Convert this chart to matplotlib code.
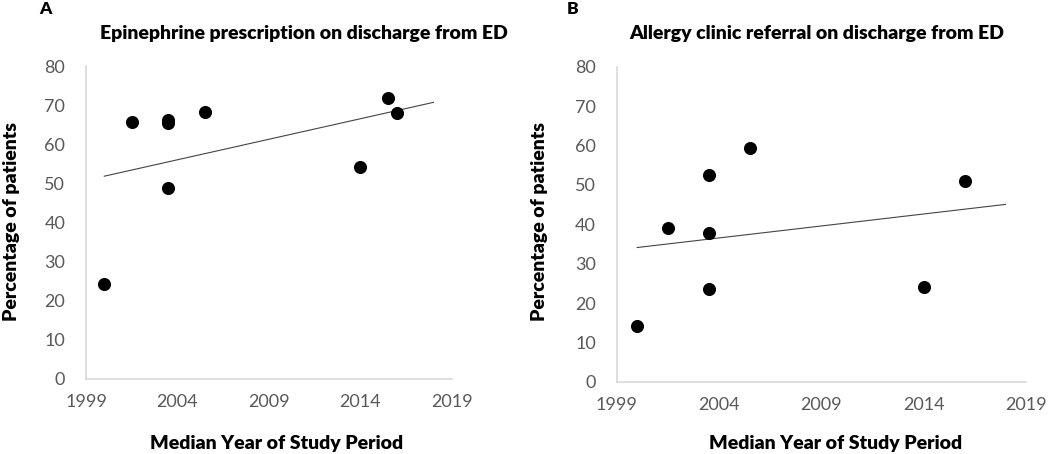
import matplotlib.pyplot as plt
import numpy as np

plt.rcParams['font.family'] = ['Lato', 'DejaVu Sans']

# panel A: epinephrine prescription
years_a = [2000, 2001.5, 2003.5, 2003.5, 2003.5, 2005.5, 2014, 2015.5, 2016]
pct_a = [24.4, 65.7, 66.2, 65.4, 48.7, 68.2, 54.3, 71.8, 67.9]

# panel B: allergy clinic referral
years_b = [2000, 2001.5, 2003.5, 2003.5, 2003.5, 2005.5, 2014, 2016]
pct_b = [14.3, 39.0, 37.9, 23.7, 52.5, 59.3, 24.1, 51.0]

x_ticks = [1999, 2004, 2009, 2014, 2019]
y_ticks = [0, 10, 20, 30, 40, 50, 60, 70, 80]
trend_span = [2000, 2018]

fig = plt.figure(figsize=(10.5, 4.54), dpi=100)
ax_a = fig.add_axes([0.0819, 0.1652, 0.3483, 0.6894])
ax_b = fig.add_axes([0.5873, 0.1586, 0.3898, 0.6945])


def draw(ax, xs, ys):
    ax.plot(xs, ys, 'o', color='black', markersize=8.4, zorder=3)
    k, b = np.polyfit(xs, ys, 1)
    tx = np.array(trend_span)
    ax.plot(tx, k * tx + b, color='#444444', linewidth=0.8, zorder=2)
    ax.set_xlim(1999, 2019)
    ax.set_ylim(0, 80)
    ax.set_xticks(x_ticks)
    ax.set_yticks(y_ticks)
    for s in ['top', 'right']:
        ax.spines[s].set_visible(False)
    for s in ['left', 'bottom']:
        ax.spines[s].set_color('#d9d9d9')
        ax.spines[s].set_linewidth(1.2)
    ax.tick_params(length=0, labelsize=13, colors='#595959')
    ax.tick_params(axis='y', pad=15)
    ax.tick_params(axis='x', pad=11)


draw(ax_a, years_a, pct_a)
draw(ax_b, years_b, pct_b)

bold = dict(fontweight='heavy', ha='center', va='center')

fig.text(45 / 1050, 1 - 9 / 454, 'A', fontsize=12.5, **bold)
fig.text(573 / 1050, 1 - 9 / 454, 'B', fontsize=12.5, **bold)

fig.text(304 / 1050, 1 - 33 / 454, 'Epinephrine prescription on discharge from ED',
         fontsize=14, **bold)
fig.text(817 / 1050, 1 - 33 / 454, 'Allergy clinic referral on discharge from ED',
         fontsize=14, **bold)

fig.text(12 / 1050, 1 - 222 / 454, 'Percentage of patients', rotation=90,
         fontsize=14, **bold)
fig.text(540 / 1050, 1 - 222 / 454, 'Percentage of patients', rotation=90,
         fontsize=14, **bold)

fig.text(277 / 1050, 1 - 443.7 / 454, 'Median Year of Study Period',
         fontsize=14, **bold)
fig.text(836 / 1050, 1 - 443.7 / 454, 'Median Year of Study Period',
         fontsize=14, **bold)

fig.savefig('out.png', dpi=100)
